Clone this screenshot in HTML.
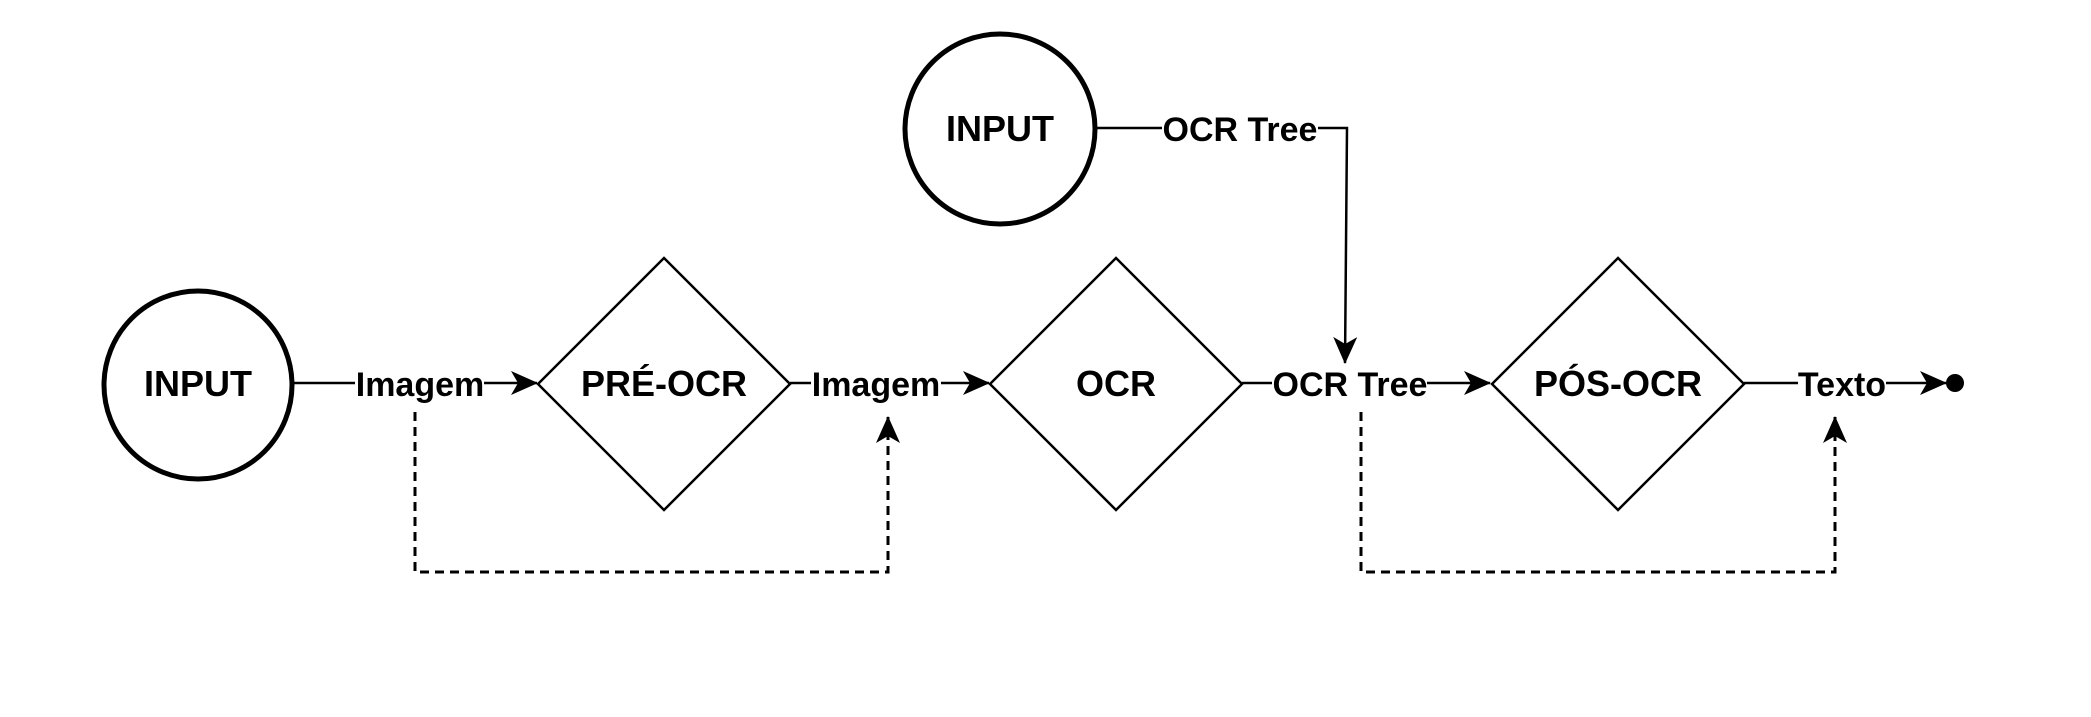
<!DOCTYPE html>
<html><head><meta charset="utf-8"><style>
html,body{margin:0;padding:0;background:#fff}
svg{display:block}
text{font-family:"Liberation Sans",Arial,sans-serif;font-weight:bold;fill:#000}
</style></head><body>
<svg width="2091" height="717" viewBox="0 0 2091 717" xmlns="http://www.w3.org/2000/svg">
<defs>
<marker id="a" markerUnits="userSpaceOnUse" markerWidth="27" markerHeight="24" refX="26" refY="12" orient="auto" viewBox="0 0 27 24">
<path d="M0,0 L27,12 L0,24 L7,12 Z" fill="#000"/>
</marker>
</defs>
<g fill="none" stroke="#000">
<circle cx="198" cy="385" r="94" stroke-width="5"/>
<circle cx="1000" cy="129" r="95" stroke-width="5"/>
<polygon points="664,258 790,384 664,510 538,384" stroke-width="2.5"/>
<polygon points="1116,258 1242,384 1116,510 990,384" stroke-width="2.5"/>
<polygon points="1618,258 1744,384 1618,510 1492,384" stroke-width="2.5"/>
<line x1="292" y1="383" x2="355" y2="383" stroke-width="2.5"/>
<line x1="484" y1="383" x2="537" y2="383" stroke-width="2.5" marker-end="url(#a)"/>
<line x1="790" y1="383" x2="811" y2="383" stroke-width="2.5"/>
<line x1="941" y1="383" x2="989" y2="383" stroke-width="2.5" marker-end="url(#a)"/>
<line x1="1242" y1="383" x2="1272" y2="383" stroke-width="2.5"/>
<line x1="1427" y1="383" x2="1490" y2="383" stroke-width="2.5" marker-end="url(#a)"/>
<line x1="1744" y1="383" x2="1798" y2="383" stroke-width="2.5"/>
<line x1="1886" y1="383" x2="1946" y2="383" stroke-width="2.5" marker-end="url(#a)"/>
<line x1="1095" y1="128" x2="1162" y2="128" stroke-width="2.5"/>
<polyline points="1318,128 1347,128 1345,363" stroke-width="2.5" marker-end="url(#a)"/>
<polyline points="415,412 415,572 888,572 888,417" stroke-width="3" stroke-dasharray="9,6" marker-end="url(#a)"/>
<polyline points="1361,412 1361,572 1835,572 1835,417" stroke-width="3" stroke-dasharray="9,6" marker-end="url(#a)"/>
</g>
<circle cx="1955" cy="383" r="9" fill="#000"/>
<g text-anchor="middle" font-size="34">
<text x="198" y="396" font-size="36">INPUT</text>
<text x="1000" y="141" font-size="36">INPUT</text>
<text x="664" y="396" font-size="36">PRÉ-OCR</text>
<text x="1116" y="396" font-size="36">OCR</text>
<text x="1618" y="396" font-size="36">PÓS-OCR</text>
<text x="420" y="396">Imagem</text>
<text x="876" y="396">Imagem</text>
<text x="1350" y="396">OCR Tree</text>
<text x="1842" y="396">Texto</text>
<text x="1240" y="141">OCR Tree</text>
</g>
</svg>
</body></html>
